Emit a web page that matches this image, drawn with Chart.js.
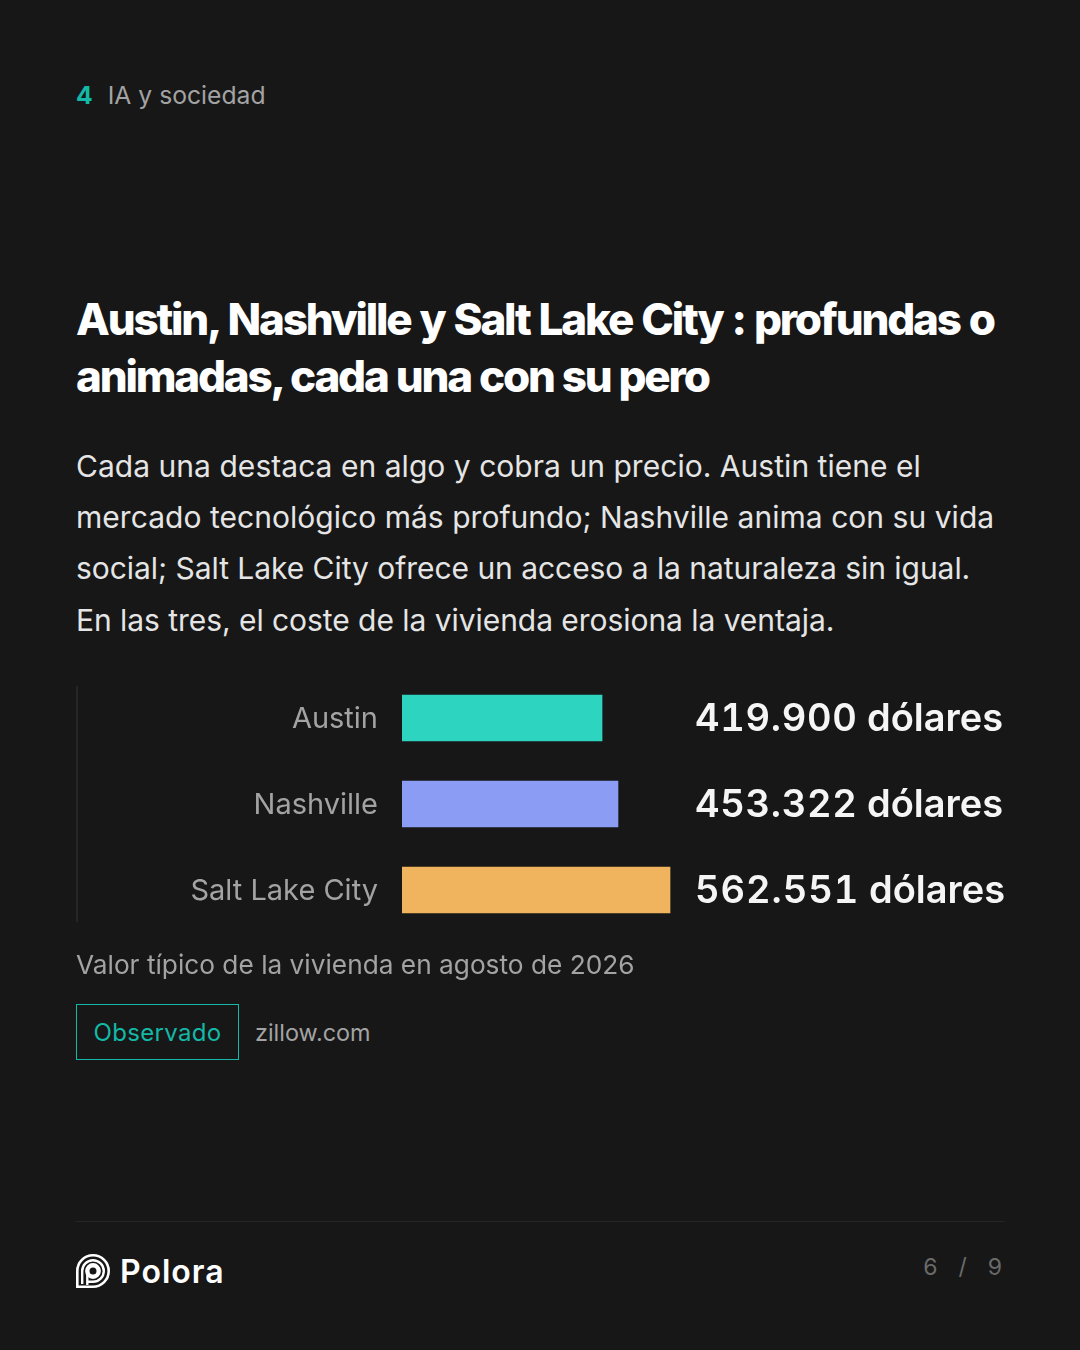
<!DOCTYPE html>
<html lang="es">
<head>
<meta charset="utf-8">
<title>Polora</title>
<script src="https://cdn.jsdelivr.net/npm/chart.js@4"></script>
<style>
  html, body { margin: 0; padding: 0; background: #171717; }
  body { width: 1080px; height: 1350px; position: relative; overflow: hidden; font-family: Inter, sans-serif; }
  .abs { position: absolute; white-space: nowrap; }
  #kicker { left: 76px; top: 80px; font-size: 24.7px; line-height: 30px; color: #a3a3a3; }
  #kicker b { color: #14b8a6; font-weight: 700; margin-right: 15px; }
  #title { left: 76px; top: 291px; font-size: 44px; line-height: 57.2px; font-weight: 800; color: #fff; letter-spacing: -2.2px; }
  #title span { display: block; }
  #lead { left: 76px; top: 440.8px; font-size: 30px; line-height: 51.3px; color: #e5e5e5; }
  #lead span { display: block; }
  #rule { left: 76px; top: 686px; width: 2px; height: 236px; background: #262626; }
  #chartBox { left: 78px; top: 636px; width: 926px; height: 336px; }
  .val { left: 695px; font-size: 38px; line-height: 46px; font-weight: 600; color: #f5f5f5; transform: translateY(-50%); margin-top: -1px; }
  .val .num { font-variant-numeric: tabular-nums; letter-spacing: .67px; }
  #val2 .num { letter-spacing: .95px; }
  #note { left: 76px; top: 949px; font-size: 26.25px; line-height: 32px; color: #a3a3a3; }
  #tag { left: 76px; top: 1004px; width: 161px; height: 54px; border: 1px solid #14b8a6; color: #14b8a6; font-size: 24px; line-height: 56px; text-align: center; letter-spacing: .33px; }
  #source { left: 255px; top: 1018px; font-size: 23.4px; line-height: 30px; color: #a3a3a3; }
  #footline { left: 76px; top: 1221px; width: 928px; height: 1px; background: #262626; }
  #logo { left: 76px; top: 1254px; }
  #brand { left: 120px; top: 1253px; font-size: 32px; line-height: 38px; font-weight: 600; color: #fff; letter-spacing: 1px; }
  #pager { right: 78px; top: 1253px; font-size: 23px; line-height: 28px; color: #6a6a6a; word-spacing: 14.5px; }
</style>
</head>
<body>
<div class="abs" id="kicker"><b>4</b>IA y sociedad</div>
<div class="abs" id="title"><span style="word-spacing:1.6px">Austin, Nashville y Salt Lake City : profundas o</span><span style="word-spacing:.6px">animadas, cada una con su pero</span></div>
<div class="abs" id="lead"><span style="letter-spacing:.034px">Cada una destaca en algo y cobra un precio. Austin tiene el</span><span style="letter-spacing:.033px">mercado tecnológico más profundo; Nashville anima con su vida</span><span style="letter-spacing:-.045px">social; Salt Lake City ofrece un acceso a la naturaleza sin igual.</span><span style="letter-spacing:-.05px">En las tres, el coste de la vivienda erosiona la ventaja.</span></div>
<div class="abs" id="rule"></div>
<div class="abs" id="chartBox"><canvas id="chart"></canvas></div>
<div class="abs" id="note">Valor típico de la vivienda en agosto de 2026</div>
<div class="abs" id="tag">Observado</div>
<div class="abs" id="source">zillow.com</div>
<div class="abs" id="footline"></div>
<svg class="abs" id="logo" width="34" height="34" viewBox="0 0 34 34" fill="none" stroke="#fff">
  <path d="M1.3 32.7V17A15.7 15.7 0 1 1 17 32.7Z" stroke-width="2.6"/>
  <path d="M6.2 30V17A10.8 10.8 0 1 1 17 27.8H11" stroke-width="2.4"/>
  <circle cx="17" cy="17" r="5.7" stroke-width="4.4"/>
  <path d="M11.3 31V17" stroke-width="2.4"/>
</svg>
<div class="abs" id="brand">Polora</div>
<div class="abs" id="pager">6 / 9</div>

<script>
const categories = ['Austin', 'Nashville', 'Salt Lake City'];
const values = [419900, 453322, 562551];
const valueNumbers = ['419.900', '453.322', '562.551'];
const valueUnit = 'dólares';
const barColors = ['#2dd4bf', '#8b9cf4', '#f0b45e'];

// el eje termina a la derecha del lienzo, las barras solo ocupan parte
const axisMax = 1263600;

const chart = new Chart(document.getElementById('chart'), {
  type: 'bar',
  data: {
    labels: categories,
    datasets: [{
      data: values,
      backgroundColor: barColors,
      barThickness: 46,
      borderWidth: 0
    }]
  },
  options: {
    indexAxis: 'y',
    responsive: true,
    maintainAspectRatio: false,
    animation: false,
    scales: {
      x: { display: false, min: 0, max: axisMax },
      y: {
        afterFit: scale => { scale.width = 324; },
        grid: { display: false, drawTicks: false },
        border: { display: false },
        ticks: {
          color: '#a3a3a3',
          padding: 24, // con lineHeight 30 deja 39px arriba y abajo
          labelOffset: 1,
          font: { family: 'Inter', size: 29, weight: '400', lineHeight: '30px' }
        }
      }
    },
    plugins: {
      legend: { display: false },
      tooltip: { enabled: false }
    }
  }
});

// Etiquetas de valor alineadas con el centro de cada barra
const box = document.getElementById('chartBox');
valueNumbers.forEach((num, i) => {
  const div = document.createElement('div');
  div.className = 'abs val';
  div.id = 'val' + i;
  div.innerHTML = `<span class="num">${num}</span> ${valueUnit}`;
  div.style.top = (box.offsetTop + chart.scales.y.getPixelForValue(i)) + 'px';
  document.body.insertBefore(div, document.getElementById('note'));
});
</script>
</body>
</html>
